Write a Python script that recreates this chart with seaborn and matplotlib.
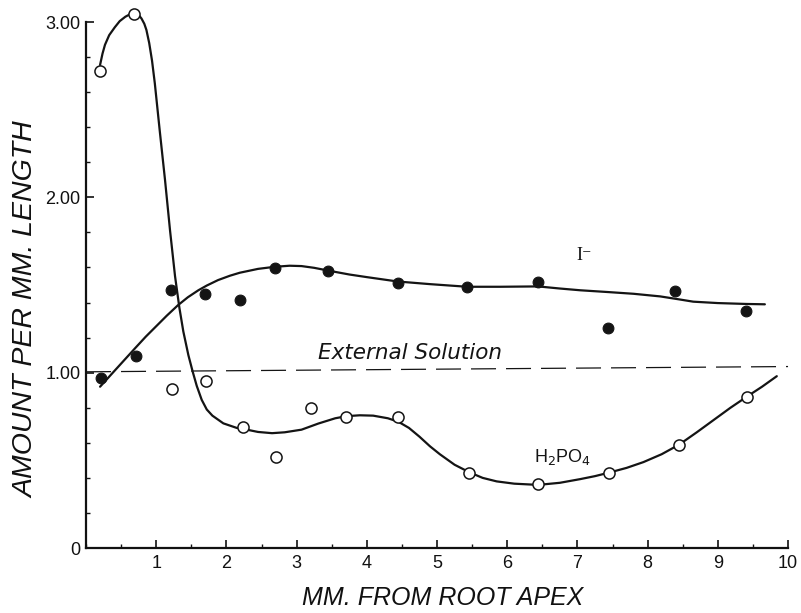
import numpy as np
import pandas as pd
import matplotlib
matplotlib.use("Agg")
import matplotlib.pyplot as plt
import seaborn as sns
from matplotlib.ticker import FixedLocator, FixedFormatter, MultipleLocator

# ---------------- data ----------------
h2po4_x = [0.20, 0.69, 1.22, 1.71, 2.23, 2.71, 3.20, 3.71, 4.45, 5.46, 6.44, 7.45, 8.45, 9.42]
h2po4_y = [2.72, 3.045, 0.905, 0.953, 0.69, 0.52, 0.80, 0.745, 0.745, 0.426, 0.363, 0.426, 0.59, 0.863]

iodide_x = [0.22, 0.71, 1.21, 1.69, 2.20, 2.69, 3.44, 4.45, 5.43, 6.44, 7.43, 8.39, 9.40]
iodide_y = [0.97, 1.095, 1.47, 1.45, 1.415, 1.595, 1.58, 1.51, 1.49, 1.515, 1.253, 1.468, 1.352]

# hand-drawn fitted curves
h2po4_curve_x = [0.20, 0.235, 0.27, 0.33, 0.41, 0.48, 0.56, 0.63, 0.69, 0.75, 0.79, 0.83,
                 0.86, 0.90, 0.94, 0.98, 1.05, 1.125, 1.197, 1.268, 1.33, 1.386, 1.458,
                 1.52, 1.577, 1.648, 1.72, 1.80, 1.956, 2.147, 2.23, 2.45, 2.65, 2.83,
                 3.07, 3.31, 3.55, 3.71, 3.90, 4.09, 4.30, 4.45, 4.60, 4.75, 4.90, 5.04,
                 5.25, 5.46, 5.65, 5.85, 6.10, 6.44, 6.75, 7.04, 7.25, 7.45, 7.70, 7.94,
                 8.20, 8.45, 8.70, 8.94, 9.18, 9.42, 9.63, 9.84]
h2po4_curve_y = [2.755, 2.82, 2.87, 2.925, 2.97, 3.005, 3.03, 3.045, 3.05, 3.04, 3.02, 2.99,
                 2.955, 2.88, 2.78, 2.65, 2.38, 2.10, 1.81, 1.55, 1.37, 1.235, 1.10,
                 1.005, 0.925, 0.845, 0.79, 0.755, 0.711, 0.685, 0.68, 0.662, 0.655, 0.66,
                 0.675, 0.71, 0.74, 0.752, 0.757, 0.755, 0.74, 0.72, 0.685, 0.635, 0.58, 0.535,
                 0.475, 0.432, 0.40, 0.38, 0.367, 0.36, 0.372, 0.393, 0.41, 0.43, 0.457, 0.49,
                 0.535, 0.59, 0.66, 0.73, 0.80, 0.865, 0.92, 0.98]

iodide_curve_x = [0.20, 0.45, 0.70, 0.85, 1.00, 1.15, 1.31, 1.45, 1.60, 1.72, 1.88, 2.05,
                  2.19, 2.45, 2.69, 2.90, 3.07, 3.25, 3.48, 3.75, 4.00, 4.44, 4.90, 5.43,
                  5.90, 6.44, 6.75, 7.04, 7.43, 7.80, 8.18, 8.45, 8.65, 9.00, 9.40, 9.67]
iodide_curve_y = [0.92, 1.03, 1.14, 1.205, 1.265, 1.325, 1.385, 1.43, 1.47, 1.497, 1.528, 1.553,
                  1.57, 1.592, 1.604, 1.61, 1.608, 1.598, 1.58, 1.56, 1.545, 1.52, 1.505, 1.49,
                  1.49, 1.492, 1.48, 1.47, 1.46, 1.45, 1.435, 1.418, 1.405, 1.397, 1.392, 1.39]

external_x = [0.0, 10.0]
external_y = [1.005, 1.035]

x_ticks = [1, 2, 3, 4, 5, 6, 7, 8, 9, 10]
x_tick_labels = ["1", "2", "3", "4", "5", "6", "7", "8", "9", "10"]
y_ticks = [0, 1, 2, 3]
y_tick_labels = ["0", "1.00", "2.00", "3.00"]

# ---------------- style ----------------
sns.set_theme(style="ticks")
plt.rcParams["font.family"] = ["Liberation Sans", "DejaVu Sans"]
plt.rcParams["axes.edgecolor"] = "#111111"
plt.rcParams["xtick.color"] = "#111111"
plt.rcParams["ytick.color"] = "#111111"

fig = plt.figure(figsize=(8.01, 6.13), dpi=100)
ax = fig.add_axes([0.1074, 0.1060, 0.8764, 0.8581])

ink = "#141414"

# external solution dashed line
sns.lineplot(x=external_x, y=external_y, ax=ax, color=ink, lw=0.9,
             linestyle=(0, (20, 8)), estimator=None, sort=False, zorder=1)

# fitted curves
sns.lineplot(x=h2po4_curve_x, y=h2po4_curve_y, ax=ax, color=ink, lw=1.6,
             estimator=None, sort=False, zorder=2)
sns.lineplot(x=iodide_curve_x, y=iodide_curve_y, ax=ax, color=ink, lw=1.6,
             estimator=None, sort=False, zorder=2)
for ln in ax.lines:
    ln.set_clip_on(False)
    ln.set_solid_capstyle("round")
    ln.set_solid_joinstyle("round")

# observed points
sns.scatterplot(x=h2po4_x, y=h2po4_y, ax=ax, s=64, color="white",
                edgecolor=ink, linewidth=1.1, zorder=4, clip_on=False)
sns.scatterplot(x=iodide_x, y=iodide_y, ax=ax, s=60, color=ink,
                edgecolor=ink, linewidth=0.8, zorder=4, clip_on=False)

# axes limits / spines
ax.set_xlim(0, 10)
ax.set_ylim(0, 3.0)
ax.spines["top"].set_visible(False)
ax.spines["right"].set_visible(False)
ax.spines["left"].set_linewidth(1.6)
ax.spines["bottom"].set_linewidth(1.6)

ax.xaxis.set_major_locator(FixedLocator(x_ticks))
ax.xaxis.set_major_formatter(FixedFormatter(x_tick_labels))
ax.xaxis.set_minor_locator(MultipleLocator(0.5))
ax.yaxis.set_major_locator(FixedLocator(y_ticks))
ax.yaxis.set_major_formatter(FixedFormatter(y_tick_labels))
ax.yaxis.set_minor_locator(MultipleLocator(0.2))

ax.tick_params(axis="both", which="major", direction="in", length=6, width=1.2,
               labelsize=13, labelcolor="#111111")
ax.tick_params(axis="both", which="minor", direction="in", length=3.2, width=1.0)
ax.tick_params(axis="x", which="major", pad=5)
ax.tick_params(axis="y", which="major", pad=4)

# axis titles
ax.set_xlabel("MM. FROM ROOT APEX", fontsize=18, style="italic", color="#111111")
ax.xaxis.set_label_coords(0.508, -0.073)
ax.set_ylabel("AMOUNT PER MM. LENGTH", fontsize=20.5, style="italic", color="#111111")
ax.yaxis.set_label_coords(-0.066, 0.4525)

# annotations
ax.text(4.61, 1.11, "External Solution", fontsize=15.5, style="italic",
        family=["DejaVu Sans"], ha="center", va="center", color=ink)
ax.text(7.09, 1.67, "I\u207b", fontsize=13, family=["Liberation Serif", "DejaVu Serif"],
        ha="center", va="center", color=ink)
ax.text(6.79, 0.49, r"H$_2$PO$_4$", fontsize=13, ha="center", va="baseline", color=ink)

fig.savefig("out.png", dpi=100, facecolor="white")
